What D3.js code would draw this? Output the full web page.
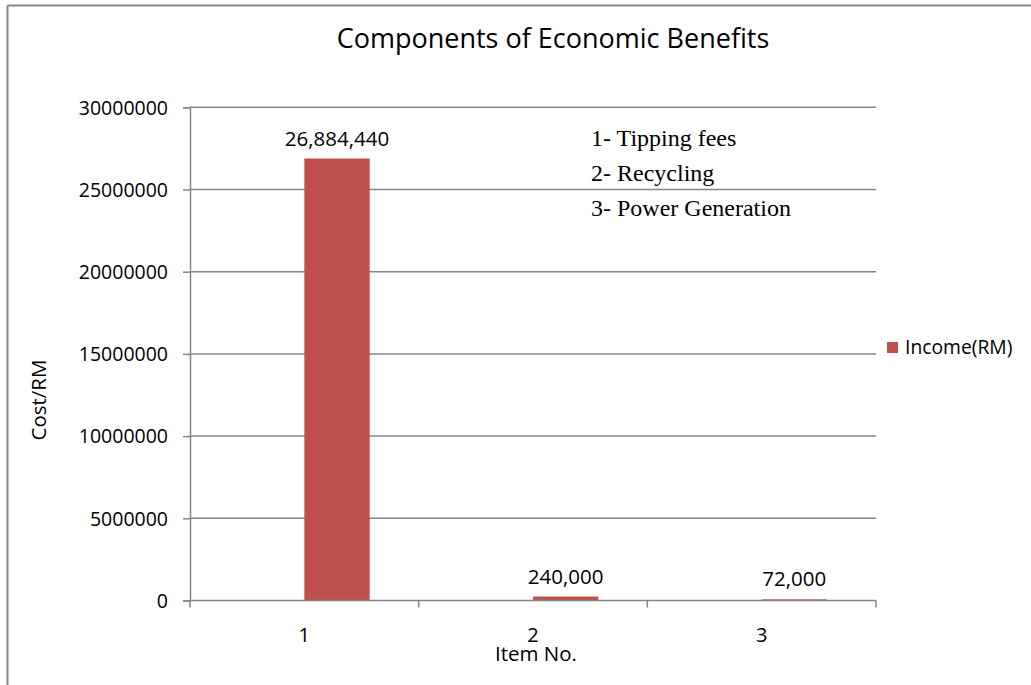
<!DOCTYPE html>
<html>
<head>
<meta charset="utf-8">
<script src="https://cdn.jsdelivr.net/npm/d3@7"></script>
<style>
  html, body { margin: 0; padding: 0; background: #fff; }
  svg { display: block; }
  text { font-family: "Open Sans", sans-serif; fill: #000; }
</style>
</head>
<body>
<svg id="chart" width="1031" height="685"></svg>
<script>
const title = "Components of Economic Benefits";
const categories = ["1", "2", "3"];
const seriesName = "Income(RM)";
const incomeValues = [26884440, 240000, 72000];
const valueLabels = ["26,884,440", "240,000", "72,000"];
const yTicks = [0, 5000000, 10000000, 15000000, 20000000, 25000000, 30000000];
const yTickLabels = ["0", "5000000", "10000000", "15000000", "20000000", "25000000", "30000000"];
const itemNotes = ["1- Tipping fees", "2- Recycling", "3- Power Generation"];
const xTitle = "Item No.";
const yTitle = "Cost/RM";

const svg = d3.select("#chart");
const gridColor = "#868686";
const barColor = "#C0504D";

// chart frame (top and left edges visible)
svg.append("line").attr("x1", 7.5).attr("x2", 1031).attr("y1", 5.5).attr("y2", 5.5)
  .attr("stroke", gridColor).attr("stroke-width", 2);
svg.append("line").attr("x1", 7.5).attr("x2", 7.5).attr("y1", 5.5).attr("y2", 685)
  .attr("stroke", gridColor).attr("stroke-width", 2);

const x = d3.scaleBand().domain(categories).range([190, 876]).padding(0);
const y = d3.scaleLinear().domain([0, 30000000]).range([600.5, 107.3]);
// clustered slots (Excel gap width 150%), income occupies the second slot
const slot = d3.scaleBand().domain([0, 1]).range([0, x.bandwidth()]).paddingInner(0).paddingOuter(0.75);

// gridlines
svg.append("g").selectAll("line").data(yTicks.filter(d => d > 0)).join("line")
  .attr("x1", 190).attr("x2", 876)
  .attr("y1", d => y(d)).attr("y2", d => y(d))
  .attr("stroke", gridColor).attr("stroke-width", 1.5);

// bars
svg.append("g").selectAll("rect").data(incomeValues).join("rect")
  .attr("x", (d, i) => x(categories[i]) + slot(1))
  .attr("width", slot.bandwidth())
  .attr("y", d => y(d))
  .attr("height", d => y(0) - y(d))
  .attr("fill", barColor);

// y axis
const yAxis = d3.axisLeft(y).tickValues(yTicks).tickSize(7).tickPadding(15)
  .tickFormat((d, i) => yTickLabels[i]);
const gy = svg.append("g").attr("transform", "translate(190,0)").call(yAxis);
gy.select(".domain").attr("stroke", gridColor).attr("stroke-width", 1.5);
gy.selectAll(".tick line").attr("stroke", gridColor).attr("stroke-width", 1.5);
gy.selectAll(".tick text").style("font-family", "Open Sans").style("font-size", "19.5px")
  .attr("fill", "#000").attr("dy", "0.35em");

// x axis: ticks at category boundaries
const xBoundaries = categories.map(c => x(c)).concat([x.range()[1]]);
svg.append("line").attr("x1", 190).attr("x2", 876).attr("y1", y(0)).attr("y2", y(0))
  .attr("stroke", gridColor).attr("stroke-width", 1.5);
svg.append("g").selectAll("line").data(xBoundaries).join("line")
  .attr("x1", d => d).attr("x2", d => d)
  .attr("y1", y(0)).attr("y2", y(0) + 7)
  .attr("stroke", gridColor).attr("stroke-width", 1.5);
svg.append("g").selectAll("text").data(categories).join("text")
  .attr("x", d => x(d) + x.bandwidth() / 2).attr("y", 642)
  .attr("text-anchor", "middle").style("font-size", "20px").text(d => d);

// value labels
svg.append("g").selectAll("text").data(incomeValues).join("text")
  .attr("x", (d, i) => x(categories[i]) + slot(1) + slot.bandwidth() / 2)
  .attr("y", d => y(d) - 13)
  .attr("text-anchor", "middle").style("font-size", "20.5px")
  .text((d, i) => valueLabels[i]);

// title
svg.append("text").attr("x", 553).attr("y", 48).attr("text-anchor", "middle")
  .style("font-size", "27px").text(title);

// axis titles
svg.append("text").attr("x", 536).attr("y", 661).attr("text-anchor", "middle")
  .style("font-size", "20.5px").text(xTitle);
svg.append("text").attr("transform", "translate(46,400) rotate(-90)")
  .attr("text-anchor", "middle").style("font-size", "20.5px").text(yTitle);

// notes
svg.append("g").selectAll("text").data(itemNotes).join("text")
  .attr("x", 591).attr("y", (d, i) => 146 + i * 35)
  .style("font-family", "'Liberation Serif', serif").style("font-size", "24px")
  .text(d => d);

// legend
const lg = svg.append("g");
lg.append("rect").attr("x", 887).attr("y", 342).attr("width", 11).attr("height", 11).attr("fill", barColor);
lg.append("text").attr("x", 905).attr("y", 354).style("font-size", "19.3px").text(seriesName);
</script>
</body>
</html>
